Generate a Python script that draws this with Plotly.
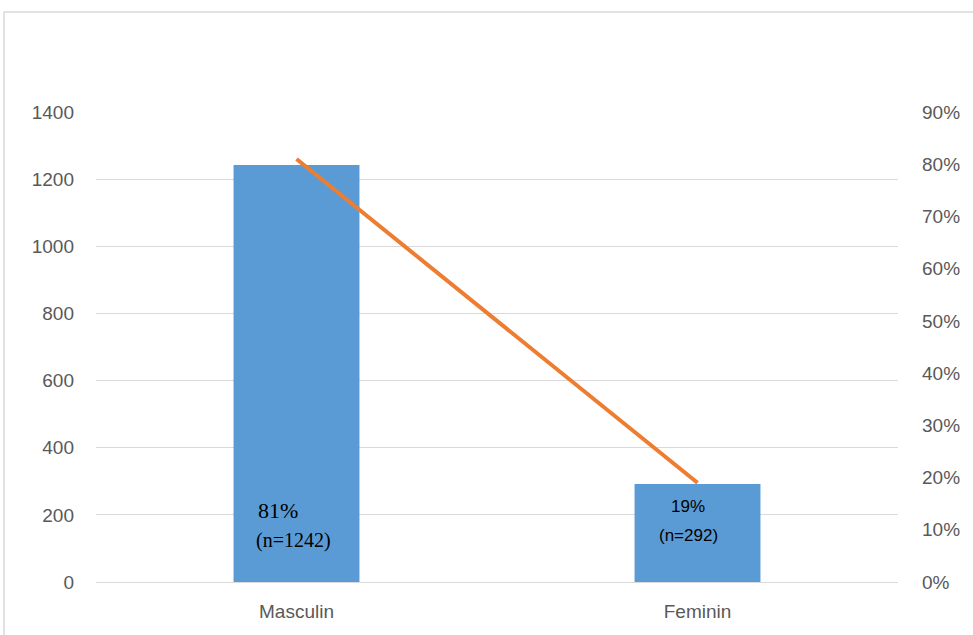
import plotly.graph_objects as go

categories = ["Masculin", "Feminin"]
counts = [1242, 292]
percents = [0.81, 0.19]
pct_labels = ["81%", "19%"]
n_labels = ["(n=1242)", "(n=292)"]

bar_color = "#5B9BD5"
line_color = "#ED7D31"
grid_color = "#D9D9D9"
tick_font = dict(family="Liberation Sans, Arial", size=19, color="#595959")

fig = go.Figure()
fig.add_trace(go.Bar(x=categories, y=counts, marker=dict(color=bar_color, line=dict(width=0)),
                     width=0.314, showlegend=False, hoverinfo="skip"))
fig.add_trace(go.Scatter(x=categories, y=percents, yaxis="y2", mode="lines",
                         line=dict(color=line_color, width=4), showlegend=False, hoverinfo="skip"))

# annotations inside bars
serif = "Liberation Serif, Times New Roman"
sans = "Liberation Sans, Arial"
ann_specs = [
    # (category index, text, y value, font, size, xanchor, xshift)
    (0, pct_labels[0], 214, serif, 22, "left", -41),
    (0, n_labels[0], 125, serif, 20, "left", -43),
    (1, pct_labels[1], 226, sans, 17, "center", -10),
    (1, n_labels[1], 140, sans, 17, "center", -9),
]
for i, txt, yv, fam, sz, xa, xs in ann_specs:
    fig.add_annotation(x=categories[i], y=yv, text=txt, showarrow=False, xanchor=xa,
                       font=dict(family=fam, size=sz, color="black"), xshift=xs)

# outer chart border
fig.add_shape(type="rect", xref="paper", yref="paper",
              x0=(4 - 96) / 802, x1=(990 - 96) / 802,
              y0=(582 - 650) / 470, y1=(582 - 12) / 470,
              line=dict(color=grid_color, width=1.5), fillcolor="rgba(0,0,0,0)", layer="below")

fig.update_layout(
    width=973, height=635,
    margin=dict(l=96, r=75, t=112, b=53),
    paper_bgcolor="white", plot_bgcolor="white",
    xaxis=dict(showgrid=False, showline=False, ticks="", tickfont=tick_font,
               ticklabelstandoff=16, zeroline=False),
    yaxis=dict(range=[0, 1400], dtick=200, showgrid=True, gridcolor=grid_color, gridwidth=1.3,
               zeroline=True, zerolinecolor=grid_color, zerolinewidth=1.3,
               showline=False, ticks="", tickfont=tick_font, ticklabelstandoff=21),
    yaxis2=dict(range=[0, 0.9], dtick=0.1, tickformat=".0%", overlaying="y", side="right",
                showgrid=False, zeroline=False, showline=False, ticks="",
                tickfont=tick_font, ticklabelstandoff=23),
)

fig.write_html("out.html")
